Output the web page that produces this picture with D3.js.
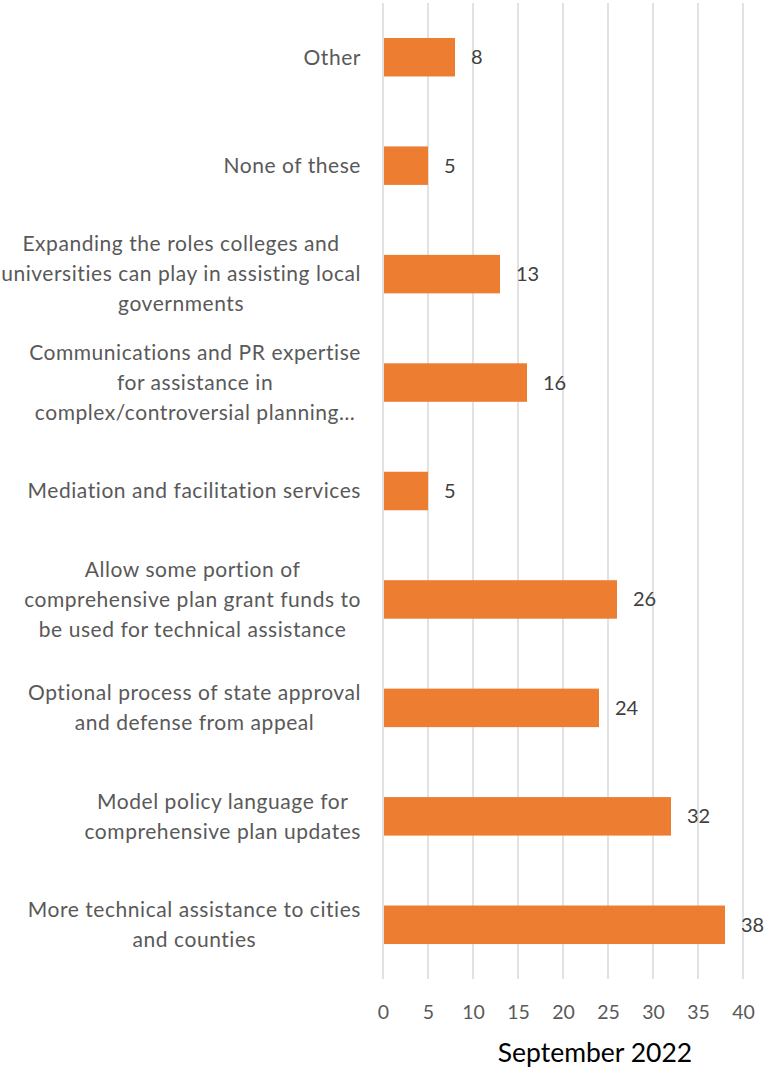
<!DOCTYPE html>
<html>
<head>
<meta charset="utf-8">
<script src="https://cdn.jsdelivr.net/npm/d3@7"></script>
<style>
  html, body { margin: 0; padding: 0; background: #fff; }
  svg { display: block; }
  text { font-family: Lato, "Open Sans", sans-serif; }
</style>
</head>
<body>
<svg id="chart" width="766" height="1070"></svg>
<script>
// Data (top to bottom as displayed)
const categories = [
  "Other",
  "None of these",
  "Expanding the roles colleges and universities can play in assisting local governments",
  "Communications and PR expertise for assistance in complex/controversial planning…",
  "Mediation and facilitation services",
  "Allow some portion of comprehensive plan grant funds to be used for technical assistance",
  "Optional process of state approval and defense from appeal",
  "Model policy language for comprehensive plan updates",
  "More technical assistance to cities and counties"
];
const labelLines = [
  ["Other"],
  ["None of these"],
  ["Expanding the roles colleges and", "universities can play in assisting local", "governments"],
  ["Communications and PR expertise", "for assistance in", "complex/controversial planning…"],
  ["Mediation and facilitation services"],
  ["Allow some portion of", "comprehensive plan grant funds to", "be used for technical assistance"],
  ["Optional process of state approval", "and defense from appeal"],
  ["Model policy language for", "comprehensive plan updates"],
  ["More technical assistance to cities", "and counties"]
];
const values = [8, 5, 13, 16, 5, 26, 24, 32, 38];
const xTicks = [0, 5, 10, 15, 20, 25, 30, 35, 40];
const axisTitle = "September 2022";

const svg = d3.select("#chart");
const plot = { left: 383, right: 743, top: 3, bottom: 979 };

const x = d3.scaleLinear().domain([0, 40]).range([plot.left, plot.right]);
const y = d3.scaleBand().domain(categories).range([plot.top, plot.bottom])
  .paddingInner(0.645).paddingOuter(0.3225);

// gridlines
svg.append("g").selectAll("line").data(xTicks).join("line")
  .attr("x1", d => x(d)).attr("x2", d => x(d))
  .attr("y1", plot.top).attr("y2", plot.bottom)
  .attr("stroke", "#d9d9d9").attr("stroke-width", 1.5);

// bars
svg.append("g").selectAll("rect").data(categories).join("rect")
  .attr("x", x(0) + 1)
  .attr("y", d => y(d))
  .attr("width", (d, i) => x(values[i]) - x(0) - 1)
  .attr("height", y.bandwidth())
  .attr("fill", "#ED7D31");

// value labels
svg.append("g").selectAll("text").data(categories).join("text")
  .attr("x", (d, i) => x(values[i]) + 16)
  .attr("y", d => y(d) + y.bandwidth() / 2)
  .attr("dy", "0.35em")
  .attr("font-size", 20)
  .attr("fill", "#404040")
  .text((d, i) => values[i]);

// x axis tick labels
const xAxis = d3.axisBottom(x).tickValues(xTicks).tickSize(0).tickPadding(0);
const gx = svg.append("g").attr("transform", `translate(0, ${plot.bottom})`).call(xAxis);
gx.select(".domain").remove();
gx.selectAll("text")
  .attr("y", 40).attr("dy", 0)
  .attr("font-size", 19.5)
  .attr("font-family", "Lato, 'Open Sans', sans-serif")
  .attr("fill", "#595959");

// axis title
svg.append("text")
  .attr("x", 595).attr("y", 1062)
  .attr("text-anchor", "middle")
  .attr("font-size", 26.5)
  .attr("fill", "#000")
  .text(axisTitle);

// category labels
const labelRight = 361;
const lineH = 30;
const lg = svg.append("g");
categories.forEach((c, i) => {
  const lines = labelLines[i];
  const g = lg.append("g");
  const cy = y(c) + y.bandwidth() / 2;
  const n = lines.length;
  const texts = lines.map((l, j) => g.append("text")
    .attr("y", cy + (j - (n - 1) / 2) * lineH)
    .attr("dy", "0.35em")
    .attr("font-size", 21)
    .attr("letter-spacing", "0.55px")
    .attr("fill", "#595959")
    .attr("text-anchor", "middle")
    .text(l));
  const maxW = d3.max(texts, t => t.node().getBBox().width);
  texts.forEach(t => t.attr("x", labelRight - maxW / 2));
});
</script>
</body>
</html>
